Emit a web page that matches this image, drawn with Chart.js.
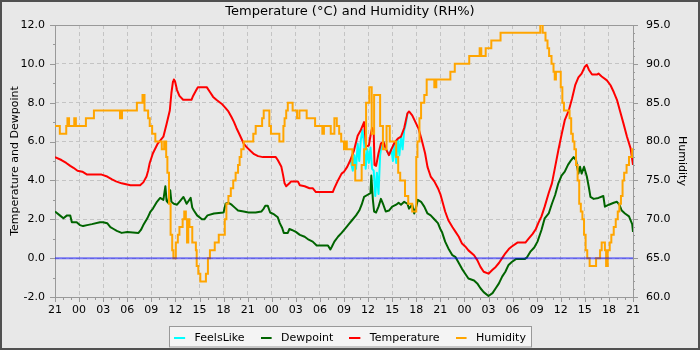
<!DOCTYPE html>
<html>
<head>
<meta charset="utf-8">
<title>Temperature and Humidity</title>
<script src="https://cdn.jsdelivr.net/npm/chart.js@4.4.0/dist/chart.umd.min.js"></script>
<style>
  html, body { margin: 0; padding: 0; background: #e8e8e8; }
  canvas { display: block; }
</style>
</head>
<body>
<canvas id="chart" width="700" height="350"></canvas>
<script>
// Hours since 21:00 on the first day; the axis runs 72 hours.
const hourLabels = ['21','00','03','06','09','12','15','18','21','00','03','06','09','12','15','18','21','00','03','06','09','12','15','18','21'];

const tempHours = [0,0.8,1.4,1.9,2.3,2.8,3.4,4.0,5.8,6.5,7.1,7.6,8.3,9.4,10.6,11.0,11.4,11.6,11.8,12.2,12.8,13.5,13.9,14.3,14.5,14.7,14.8,14.95,15.2,15.5,15.96,17.0,17.2,17.6,17.8,18.9,19.3,19.7,20.1,20.75,21.2,21.6,22.0,22.3,22.6,23.0,23.5,23.9,24.4,24.8,25.3,25.9,27.5,27.75,28.2,28.4,28.6,28.8,29.2,29.4,30.25,30.5,31.1,31.7,32.1,32.5,34.6,34.8,35.25,35.7,36.0,36.4,36.8,37.25,37.7,38.1,38.5,38.75,39.1,39.3,39.5,39.7,39.8,40.0,40.3,40.6,40.9,41.25,41.6,41.9,42.3,42.7,43.1,43.5,43.9,44.1,44.5,44.9,45.3,45.7,46.1,46.4,46.8,47.25,47.7,48.0,48.2,48.6,49.0,49.5,49.9,50.3,50.7,51.1,51.5,52.2,52.6,53.0,53.4,54.0,54.5,54.9,55.3,55.7,56.1,56.6,56.9,57.6,58.6,59.0,59.5,59.9,60.2,60.6,61.0,61.5,61.9,62.3,62.7,63.1,63.5,64.0,64.4,64.8,65.2,65.6,66.0,66.25,66.5,66.9,67.5,67.7,68.1,68.75,69.2,69.6,70.0,70.4,70.8,71.25,71.7,72.0];
const temperature = [5.2,5.05,4.9,4.75,4.65,4.5,4.45,4.3,4.3,4.2,4.05,3.95,3.85,3.75,3.75,3.9,4.2,4.5,4.9,5.4,5.9,6.25,6.9,7.6,8.5,9.1,9.2,9.1,8.65,8.35,8.15,8.15,8.35,8.65,8.8,8.8,8.55,8.3,8.15,7.95,7.75,7.55,7.25,7.0,6.7,6.35,5.9,5.7,5.5,5.35,5.25,5.2,5.2,5.05,4.7,4.3,3.85,3.7,3.85,3.95,3.95,3.75,3.7,3.6,3.6,3.4,3.4,3.6,4.0,4.35,4.45,4.7,5.05,5.55,6.3,6.6,7.0,5.75,5.8,6.3,6.7,6.5,4.8,4.75,5.4,5.9,6.0,5.6,5.3,5.6,5.95,6.15,6.25,6.7,7.45,7.55,7.35,7.0,6.65,6.05,5.4,4.7,4.2,3.95,3.6,3.3,3.0,2.4,1.95,1.6,1.35,1.1,0.75,0.6,0.4,0.15,-0.1,-0.45,-0.7,-0.8,-0.6,-0.45,-0.25,0.0,0.25,0.5,0.6,0.8,0.8,1.0,1.25,1.5,1.8,2.15,2.65,3.35,3.85,4.7,5.55,6.35,7.1,7.6,8.2,8.9,9.3,9.5,9.85,9.95,9.7,9.45,9.45,9.5,9.35,9.15,8.9,8.55,8.15,7.55,6.95,6.25,5.65,4.8];

const dewHours = [0,0.6,1.05,1.5,1.9,2.1,2.7,3.1,3.5,4.0,4.6,5.6,6.0,6.5,6.9,7.3,7.7,8.3,9.0,10.4,10.7,11.0,11.5,11.9,12.2,12.7,13.1,13.5,13.75,13.9,14.1,14.35,14.5,14.8,15.2,15.6,16.0,16.4,16.9,17.1,17.3,17.7,18.3,18.6,19.0,19.8,21.0,21.25,21.6,22.0,22.4,22.8,23.5,24.1,25.0,25.7,26.0,26.2,26.5,26.8,27.3,27.75,28.0,28.3,28.5,29.0,29.2,29.5,30.0,30.5,31.1,31.6,32.1,32.6,34.0,34.3,34.5,34.8,35.25,35.7,36.2,36.6,37.0,37.5,37.9,38.2,38.5,38.9,39.3,39.4,39.6,39.75,40.0,40.3,40.6,40.9,41.2,41.6,42.0,42.5,42.8,43.1,43.5,43.9,44.1,44.5,44.75,45.0,45.2,45.6,46.0,46.4,46.8,47.25,47.7,48.0,48.2,48.6,49.0,49.5,49.9,50.3,50.7,51.1,51.5,52.2,52.6,53.0,53.4,54.0,54.5,54.9,55.3,55.7,56.1,56.5,56.9,57.4,58.5,58.8,59.25,59.7,60.1,60.6,61.0,61.5,61.9,62.3,62.7,63.1,63.5,63.9,64.3,64.6,64.9,65.2,65.4,65.6,65.9,66.25,66.5,66.7,67.1,67.7,68.3,68.5,69.0,69.6,70.0,70.3,70.6,71.0,71.5,71.9,72.0];
const dewpoint = [2.4,2.2,2.05,2.2,2.2,1.85,1.85,1.7,1.65,1.7,1.75,1.85,1.85,1.8,1.6,1.5,1.4,1.3,1.35,1.3,1.45,1.7,2.05,2.4,2.55,2.9,3.1,3.0,3.7,2.95,2.85,3.5,2.9,2.8,2.75,2.95,3.15,2.8,3.1,2.6,2.45,2.2,2.0,2.0,2.2,2.3,2.35,2.8,2.85,2.75,2.6,2.45,2.4,2.35,2.35,2.4,2.55,2.7,2.7,2.35,2.25,2.1,1.8,1.55,1.3,1.3,1.5,1.45,1.35,1.2,1.1,0.95,0.85,0.65,0.65,0.45,0.6,0.85,1.1,1.3,1.55,1.75,1.95,2.2,2.45,2.75,3.15,3.25,3.35,4.25,3.0,2.4,2.35,2.65,3.05,2.75,2.4,2.45,2.65,2.75,2.85,2.75,2.9,2.8,2.55,2.75,2.3,2.65,3.0,2.9,2.65,2.3,2.2,2.0,1.8,1.5,1.35,0.85,0.5,0.15,0.05,-0.25,-0.55,-0.8,-1.05,-1.15,-1.3,-1.55,-1.75,-1.95,-1.8,-1.55,-1.3,-0.95,-0.7,-0.35,-0.2,-0.05,-0.05,0.05,0.35,0.55,0.85,1.45,2.05,2.3,2.8,3.25,3.85,4.25,4.45,4.8,5.05,5.2,5.05,4.35,4.7,4.35,4.7,4.2,3.65,3.15,3.05,3.1,3.2,2.65,2.75,2.85,2.9,2.75,2.45,2.3,2.15,1.75,1.35];

// Humidity is logged in whole percent; each entry holds until the next one.
const humHours = [0,0.6,1.4,1.55,1.75,2.4,2.6,3.85,4.85,8.1,8.35,10.2,10.9,11.15,11.6,11.8,12.1,12.5,13.3,13.6,13.85,14.0,14.2,14.4,14.6,14.75,15.05,15.3,15.5,15.9,16.1,16.3,16.45,16.6,16.75,17.1,17.55,17.65,17.85,18.1,18.8,19.05,19.3,19.9,20.4,21.15,21.35,21.6,21.9,22.2,22.5,22.8,23.0,23.2,23.5,24.7,25.0,25.8,26.0,26.7,26.9,27.95,28.45,28.6,28.8,29.0,29.6,30.15,30.45,31.35,32.4,33.3,33.5,34.35,34.8,35.1,35.4,35.65,36.0,36.2,36.35,37.05,37.4,38.2,38.5,38.75,39.15,39.45,39.75,40.5,40.85,41.3,41.7,42.5,42.75,43.0,43.6,44.0,44.5,45.0,45.15,45.4,45.6,46.0,46.3,47.25,47.5,49.25,49.8,51.6,52.9,53.1,53.65,54.35,55.5,60.45,60.75,61.1,61.35,61.55,61.85,62.1,62.25,62.4,63.0,63.2,63.4,64.1,64.3,64.5,64.7,64.9,65.1,65.3,65.5,65.7,65.9,66.1,66.3,66.6,67.4,67.9,68.1,68.5,68.65,68.85,69.1,69.3,69.6,69.85,70.1,70.3,70.5,70.7,70.9,71.2,71.5,71.9,72.0];
const humidity = [82,81,82,83,82,83,82,83,84,83,84,85,86,84,83,82,81,80,79,80,78,76,72,68,66,65,67,68,69,70,71,70,67,70,69,67,66,64,63,62,63,65,66,67,68,70,72,73,74,75,76,77,78,79,80,81,82,83,84,82,81,80,82,83,84,85,84,83,84,83,82,81,82,81,83,82,81,80,79,80,79,77,75,77,79,85,87,81,86,82,79,82,80,78,76,75,73,72,71,78,80,83,85,86,88,87,88,89,90,91,92,91,92,93,94,95,94,93,92,91,90,89,88,89,87,85,84,83,81,80,79,77,75,72,71,70,68,66,65,64,65,66,67,66,64,66,67,68,69,70,71,72,73,75,76,77,78,79,79];

// Wind chill only departs from the air temperature during the windy spell.
const feelsHours = [36.8,37.1,37.3,37.5,37.7,37.9,38.1,38.3,38.5,38.7,38.9,39.1,39.3,39.5,39.7,39.9,40.1,40.3,40.5,40.7,40.9,41.25,41.6,41.9,42.1,42.3,42.5,42.7,42.9,43.1,43.3,43.5,43.7,43.9];
const feelsLike = [5.05,4.5,5.3,4.6,5.9,5.0,6.1,6.6,5.9,4.6,5.6,4.9,5.7,4.6,4.5,3.2,4.4,3.3,5.3,5.9,6.0,5.6,5.3,5.6,5.0,5.9,4.9,6.1,5.3,6.25,5.6,6.6,6.9,7.45];

const colors = { feels: '#00ffff', dew: '#006400', temp: '#ff0000', hum: '#ffa500' };

const toPoints = (xs, ys) => xs.map((x, i) => ({ x, y: ys[i] }));

// Short dash used as the legend key, with a gap before the label.
function dashIcon(color) {
  const c = document.createElement('canvas');
  c.width = 15;
  c.height = 2;
  const g = c.getContext('2d');
  g.fillStyle = color;
  g.fillRect(0, 0, 11, 2);
  return c;
}

const decorations = {
  id: 'decorations',
  beforeDraw(chart) {
    const { ctx, width, height, legend } = chart;
    ctx.save();
    ctx.fillStyle = '#e8e8e8';
    ctx.fillRect(0, 0, width, height);
    const boxes = legend && legend.legendHitBoxes;
    if (boxes && boxes.length) {
      const first = boxes[0], last = boxes[boxes.length - 1];
      const left = Math.round(first.left - 5) + 0.5;
      const right = Math.round(last.left + last.width + 5) + 0.5;
      const top = Math.round(first.top + first.height / 2 - 12) + 0.5;
      ctx.fillStyle = '#f4f4f4';
      ctx.fillRect(left, top, right - left, height - top);
      ctx.strokeStyle = '#999999';
      ctx.lineWidth = 1;
      ctx.strokeRect(left, top, right - left, height - 3 - top);
    }
    ctx.restore();
  },
  beforeDatasetsDraw(chart) {
    const { ctx, chartArea: a, scales } = chart;
    const { x, y, y1 } = scales;
    ctx.save();
    ctx.strokeStyle = '#999999';
    ctx.lineWidth = 1;
    ctx.beginPath();
    for (let h = x.min; h <= x.max; h++) {
      const px = Math.round(x.getPixelForValue(h)) + 0.5;
      ctx.moveTo(px, a.bottom);
      ctx.lineTo(px, a.bottom + (h % 3 ? 3 : 5));
    }
    for (let v = y.min; v <= y.max; v++) {
      const py = Math.round(y.getPixelForValue(v)) + 0.5;
      ctx.moveTo(a.left, py);
      ctx.lineTo(a.left - (v % 2 ? 2 : 5), py);
    }
    for (let v = y1.min; v <= y1.max; v++) {
      const py = Math.round(y1.getPixelForValue(v)) + 0.5;
      ctx.moveTo(a.right, py);
      ctx.lineTo(a.right + (v % 5 ? 2 : 5), py);
    }
    ctx.stroke();
    ctx.strokeRect(Math.round(a.left) + 0.5, Math.round(a.top) + 0.5,
                   Math.round(a.right - a.left), Math.round(a.bottom - a.top));
    ctx.restore();
  },
  afterDatasetsDraw(chart) {
    const { ctx, chartArea: a, scales: { y } } = chart;
    const py = y.getPixelForValue(0);
    ctx.save();
    ctx.strokeStyle = 'rgba(0, 0, 255, 0.5)';
    ctx.lineWidth = 2;
    ctx.beginPath();
    ctx.moveTo(a.left, py);
    ctx.lineTo(a.right, py);
    ctx.stroke();
    ctx.restore();
  },
  afterDraw(chart) {
    const { ctx, width, height } = chart;
    ctx.save();
    ctx.strokeStyle = '#505050';
    ctx.lineWidth = 2;
    ctx.strokeRect(1, 1, width - 2, height - 2);
    ctx.restore();
  }
};

Chart.defaults.font.family = "'DejaVu Sans', sans-serif";
Chart.defaults.font.size = 11;
Chart.defaults.color = '#000000';

new Chart(document.getElementById('chart'), {
  type: 'line',
  data: {
    datasets: [
      { label: 'FeelsLike', data: toPoints(feelsHours, feelsLike), borderColor: colors.feels, backgroundColor: colors.feels, yAxisID: 'y', order: 4, borderJoinStyle: 'round' },
      { label: 'Dewpoint', data: toPoints(dewHours, dewpoint), borderColor: colors.dew, backgroundColor: colors.dew, yAxisID: 'y', order: 3, borderJoinStyle: 'round' },
      { label: 'Temperature', data: toPoints(tempHours, temperature), borderColor: colors.temp, backgroundColor: colors.temp, yAxisID: 'y', order: 2, borderJoinStyle: 'round' },
      { label: 'Humidity', data: toPoints(humHours, humidity), borderColor: colors.hum, backgroundColor: colors.hum, yAxisID: 'y1', order: 1, stepped: true }
    ]
  },
  options: {
    responsive: false,
    devicePixelRatio: 1,
    animation: false,
    events: [],
    layout: { padding: 0 },
    elements: {
      point: { radius: 0 },
      line: { borderWidth: 2, tension: 0, fill: false }
    },
    plugins: {
      tooltip: { enabled: false },
      title: {
        display: true,
        text: 'Temperature (°C) and Humidity (RH%)',
        color: '#000000',
        font: { size: 13, weight: 'normal' },
        padding: { top: 4, bottom: 5.4 }
      },
      legend: {
        position: 'bottom',
        maxHeight: 33.5,
        labels: {
          font: { size: 11 },
          color: '#000000',
          usePointStyle: true,
          pointStyleWidth: 15,
          boxHeight: 2,
          padding: 16,
          generateLabels(chart) {
            return chart.data.datasets.map((ds, i) => ({
              text: ds.label,
              fillStyle: ds.borderColor,
              strokeStyle: ds.borderColor,
              lineWidth: 0,
              pointStyle: dashIcon(ds.borderColor),
              hidden: !chart.isDatasetVisible(i),
              datasetIndex: i
            }));
          }
        }
      }
    },
    scales: {
      x: {
        type: 'linear',
        min: 0,
        max: 72,
        afterFit(scale) { scale.height = 19.5; },
        ticks: {
          stepSize: 3,
          maxTicksLimit: 100,
          autoSkip: false,
          maxRotation: 0,
          padding: 7,
          callback: (v) => hourLabels[Math.round(v / 3)]
        },
        grid: { color: '#c4c4c4', drawTicks: false },
        border: { display: false, dash: [4, 3] }
      },
      y: {
        position: 'left',
        min: -2,
        max: 12,
        afterFit(scale) { scale.width = 55; },
        ticks: { stepSize: 2, maxTicksLimit: 100, padding: 10, callback: (v) => v.toFixed(1) },
        grid: { color: '#c4c4c4', drawTicks: false },
        border: { display: false, dash: [4, 3] },
        title: { display: true, text: 'Temperature and Dewpoint', font: { size: 11 }, padding: { top: 9, bottom: 0 } }
      },
      y1: {
        position: 'right',
        min: 60,
        max: 95,
        afterFit(scale) { scale.width = 67; },
        ticks: { stepSize: 5, maxTicksLimit: 100, padding: 13, callback: (v) => v.toFixed(1) },
        grid: { drawOnChartArea: false, drawTicks: false },
        border: { display: false },
        title: { display: true, text: 'Humidity', font: { size: 11 }, padding: { top: 12, bottom: 0 } }
      }
    }
  },
  plugins: [decorations]
});
</script>
</body>
</html>
